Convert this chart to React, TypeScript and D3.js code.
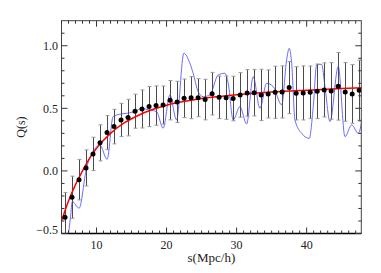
import React from "react";
import * as d3 from "d3";

const binS = [5.5, 6.5, 7.5, 8.5, 9.5, 10.5, 11.5, 12.5, 13.5, 14.5, 15.5, 16.5, 17.5, 18.5, 19.5, 20.5, 21.5, 22.5, 23.5, 24.5, 25.5, 26.5, 27.5, 28.5, 29.5, 30.5, 31.5, 32.5, 33.5, 34.5, 35.5, 36.5, 37.5, 38.5, 39.5, 40.5, 41.5, 42.5, 43.5, 44.5, 45.5, 46.5, 47.5];
const binQ = [-0.37, -0.21, -0.07, 0.024, 0.136, 0.224, 0.306, 0.354, 0.407, 0.426, 0.477, 0.495, 0.514, 0.522, 0.526, 0.565, 0.551, 0.58, 0.585, 0.585, 0.57, 0.617, 0.588, 0.585, 0.578, 0.607, 0.623, 0.625, 0.607, 0.615, 0.628, 0.631, 0.666, 0.62, 0.623, 0.628, 0.636, 0.647, 0.639, 0.676, 0.631, 0.615, 0.645];
const binErr = [0.197, 0.168, 0.162, 0.144, 0.133, 0.144, 0.136, 0.138, 0.133, 0.146, 0.136, 0.152, 0.16, 0.157, 0.152, 0.157, 0.165, 0.154, 0.168, 0.152, 0.162, 0.17, 0.17, 0.173, 0.178, 0.178, 0.186, 0.186, 0.205, 0.192, 0.208, 0.208, 0.208, 0.213, 0.216, 0.21, 0.218, 0.216, 0.226, 0.27, 0.234, 0.234, 0.24];

const fitS = [5, 6, 7, 8, 9, 10, 12, 14, 16, 18, 20, 25, 30, 35, 40, 45, 48];
const fitQ = [-0.4, -0.24, -0.11, 0.0, 0.1, 0.18, 0.3, 0.385, 0.445, 0.49, 0.525, 0.578, 0.608, 0.63, 0.645, 0.658, 0.665];

const rawS = [5.9, 6.29, 6.54, 7.51, 8.57, 9.51, 10.47, 11.51, 12.37, 13.33, 14.47, 15.47, 16.47, 17.47, 18.57, 19.51, 20.47, 21.43, 22.47, 23.33, 23.8, 24.51, 25.23, 26.19, 27.37, 28.33, 28.8, 29.51, 30.47, 31.43, 32.37, 33.33, 34.29, 35.23, 36.43, 37.14, 37.51, 37.86, 38.33, 39.29, 40.37, 40.94, 41.43, 42.14, 42.61, 43.33, 44.51, 45.47, 46.43, 47.37, 48.1];
const rawQ = [-0.55, -0.367, -0.245, -0.298, 0.022, 0.154, 0.208, 0.093, 0.434, 0.453, 0.461, 0.474, 0.5, 0.487, 0.474, 0.341, 0.607, 0.407, 0.94, 0.86, 0.78, 0.633, 0.593, 0.607, 0.767, 0.78, 0.7, 0.407, 0.514, 0.375, 0.753, 0.5, 0.7, 0.673, 0.527, 0.887, 0.98, 0.86, 0.407, 0.3, 0.26, 0.514, 0.847, 0.852, 0.673, 0.394, 0.833, 0.274, 0.367, 0.3, 0.49];

const xMajor = [10, 20, 30, 40];
const xMinor = d3.range(5, 48, 1);
const yMajor = [-0.5, 0, 0.5, 1.0];
const yMinor = [-0.4, -0.3, -0.2, -0.1, 0.1, 0.2, 0.3, 0.4, 0.6, 0.7, 0.8, 0.9, 1.1];

const W = 381, H = 273;
const L = 61.5, R = 361.3, T = 20.7, B = 233.5;

export default function App() {
  const x = d3.scaleLinear().domain([5, 47.8]).range([L, R]);
  const y = d3.scaleLinear().domain([-0.5, 1.2]).range([B, T]);
  const fitLine = d3.line<number>().x((_, i) => x(fitS[i])).y((d) => y(d)).curve(d3.curveMonotoneX);
  const rawLine = d3.line<number>().x((_, i) => x(rawS[i])).y((d) => y(d)).curve(d3.curveMonotoneX);
  const font = "'Liberation Serif', 'DejaVu Serif', serif";
  const px = (v: number) => Math.round(v) + 0.5;
  return (
    <svg width={W} height={H} style={{ position: "absolute", left: 0, top: 0, background: "#fff" }}>
      <defs>
        <clipPath id="plot"><rect x={L} y={T} width={R - L} height={B - T} /></clipPath>
      </defs>
      <g clipPath="url(#plot)">
        <path d={rawLine(rawQ) || ""} fill="none" stroke="#5a5aff" strokeWidth={0.9} />
        {binS.map((s, i) => {
          const cx = px(x(s));
          const y1 = y(binQ[i] + binErr[i]);
          const y2 = y(binQ[i] - binErr[i]);
          return (
            <g key={i}>
              <line x1={cx} x2={cx} y1={y1} y2={y2} stroke="#4a4a4a" strokeWidth={1} />
              <line x1={cx - 2} x2={cx + 2} y1={y1} y2={y1} stroke="#999" strokeWidth={1} />
              <line x1={cx - 2} x2={cx + 2} y1={y2} y2={y2} stroke="#999" strokeWidth={1} />
            </g>
          );
        })}
        <path d={fitLine(fitQ) || ""} fill="none" stroke="#ff0000" strokeWidth={1.5} />
        {binS.map((s, i) => (
          <circle key={i} cx={x(s)} cy={y(binQ[i])} r={2.5} fill="#000" />
        ))}
      </g>
      <rect x={L} y={T} width={R - L} height={B - T} fill="none" stroke="#444" strokeWidth={1} />
      <line x1={L} x2={R} y1={B} y2={B} stroke="#000" strokeWidth={1.6} />
      {xMinor.map((v) => {
        const major = xMajor.includes(v);
        const len = major ? 6 : 3;
        return (
          <g key={"x" + v}>
            <line x1={x(v)} x2={x(v)} y1={B} y2={B - len} stroke="#333" />
            <line x1={x(v)} x2={x(v)} y1={T} y2={T + len} stroke="#333" />
          </g>
        );
      })}
      {yMajor.concat(yMinor).map((v) => {
        const major = yMajor.includes(v);
        const len = major ? 6 : 3;
        return (
          <g key={"y" + v}>
            <line x1={L} x2={L + len} y1={y(v)} y2={y(v)} stroke="#333" />
            <line x1={R} x2={R - len} y1={y(v)} y2={y(v)} stroke="#333" />
          </g>
        );
      })}
      {xMajor.map((v) => (
        <text key={"xl" + v} x={x(v)} y={249} textAnchor="middle" fontFamily={font} fontSize={12} fill="#222">{v}</text>
      ))}
      {yMajor.map((v) => (
        <text key={"yl" + v} x={58} y={Math.min(y(v), B - 3.5)} dy="0.35em" textAnchor="end" fontFamily={font} fontSize={12} fill="#222">
          {v < 0 ? "\u2212" + Math.abs(v).toFixed(1) : v.toFixed(1)}
        </text>
      ))}
      <text x={(L + R) / 2} y={262} textAnchor="middle" fontFamily={font} fontSize={13} fill="#222">s(Mpc/h)</text>
      <text transform={`translate(25,${(T + B) / 2}) rotate(-90)`} textAnchor="middle" fontFamily={font} fontSize={12} fill="#222">Q(s)</text>
    </svg>
  );
}
